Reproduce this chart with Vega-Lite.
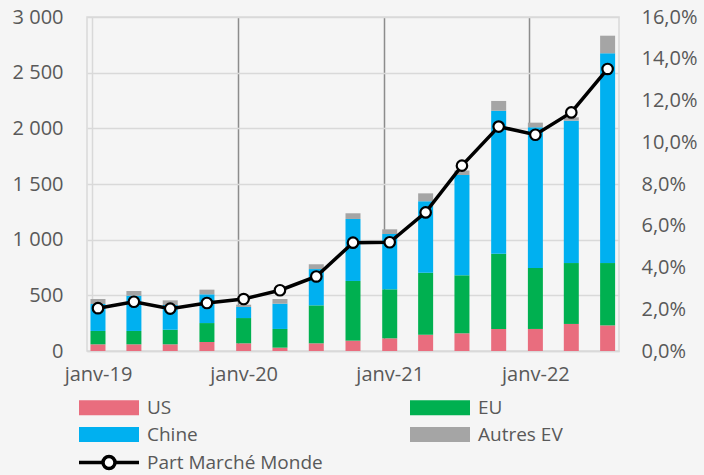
{
  "$schema": "https://vega.github.io/schema/vega-lite/v6.json",
  "autosize": {"type": "none"},
  "width": 532,
  "height": 334,
  "padding": {"left": 87, "top": 17, "right": 85, "bottom": 124},
  "background": "#f5f5f5",
  "config": {
    "view": {"stroke": "#d9d9d9", "strokeWidth": 1.5},
    "font": "Open Sans",
    "axis": {"labelFont": "Open Sans", "labelFontSize": 20, "labelColor": "#595959", "ticks": false, "title": null},
    "legend": {"labelFont": "Open Sans", "labelFontSize": 19, "labelColor": "#595959", "labelLimit": 400}
  },
  "data": {
    "values": [
      {"date": "2019-01-16", "US": 60, "EU": 120, "Chine": 242, "Autres EV": 45, "share": 2.05},
      {"date": "2019-04-16", "US": 60, "EU": 120, "Chine": 317, "Autres EV": 42, "share": 2.36},
      {"date": "2019-07-16", "US": 60, "EU": 131, "Chine": 222, "Autres EV": 42, "share": 2.03},
      {"date": "2019-10-16", "US": 81, "EU": 170, "Chine": 258, "Autres EV": 42, "share": 2.30},
      {"date": "2020-01-16", "US": 69, "EU": 227, "Chine": 100, "Autres EV": 20, "share": 2.49},
      {"date": "2020-04-16", "US": 30, "EU": 168, "Chine": 227, "Autres EV": 42, "share": 2.91},
      {"date": "2020-07-16", "US": 69, "EU": 341, "Chine": 326, "Autres EV": 43, "share": 3.57},
      {"date": "2020-10-16", "US": 93, "EU": 536, "Chine": 557, "Autres EV": 51, "share": 5.19},
      {"date": "2021-01-16", "US": 114, "EU": 440, "Chine": 497, "Autres EV": 42, "share": 5.21},
      {"date": "2021-04-16", "US": 146, "EU": 557, "Chine": 642, "Autres EV": 71, "share": 6.64},
      {"date": "2021-07-16", "US": 159, "EU": 521, "Chine": 901, "Autres EV": 40, "share": 8.88},
      {"date": "2021-10-16", "US": 198, "EU": 676, "Chine": 1284, "Autres EV": 88, "share": 10.75},
      {"date": "2022-01-16", "US": 198, "EU": 548, "Chine": 1263, "Autres EV": 42, "share": 10.36},
      {"date": "2022-04-16", "US": 243, "EU": 547, "Chine": 1279, "Autres EV": 30, "share": 11.43},
      {"date": "2022-07-16", "US": 230, "EU": 560, "Chine": 1884, "Autres EV": 158, "share": 13.51}
    ]
  },
  "encoding": {
    "x": {
      "field": "date",
      "type": "temporal",
      "scale": {"type": "utc", "domain": [{"year": 2019, "month": 1, "date": 1, "utc": true}, {"year": 2022, "month": 8, "date": 1, "utc": true}]},
      "axis": {
        "values": [
          {"year": 2019, "month": 1, "date": 1, "utc": true},
          {"year": 2020, "month": 1, "date": 1, "utc": true},
          {"year": 2021, "month": 1, "date": 1, "utc": true},
          {"year": 2022, "month": 1, "date": 1, "utc": true}
        ],
        "labelExpr": "'janv-' + utcFormat(datum.value, '%y')",
        "labelOffset": 6,
        "labelPadding": 13,
        "labelOverlap": false,
        "labelFlush": false,
        "labelBound": false,
        "grid": true,
        "gridColor": {"condition": {"test": "utcyear(datum.value) == 2019", "value": "#d9d9d9"}, "value": "#8c8c8c"},
        "gridWidth": 1.5,
        "domainColor": "#d9d9d9",
        "domainWidth": 1.5
      }
    }
  },
  "layer": [
    {
      "transform": [{"fold": ["US", "EU", "Chine", "Autres EV"], "as": ["serie", "value"]}],
      "mark": {"type": "bar", "size": 15},
      "encoding": {
        "y": {
          "field": "value",
          "type": "quantitative",
          "stack": "zero",
          "scale": {"domain": [0, 3000], "nice": false},
          "axis": {
            "values": [0, 500, 1000, 1500, 2000, 2500, 3000],
            "labelExpr": "replace(format(datum.value, ','), ',', ' ')",
            "labelPadding": 24,
            "domain": false,
            "grid": true,
            "gridColor": "#d9d9d9",
            "gridWidth": 1.5
          }
        },
        "color": {
          "field": "serie",
          "type": "nominal",
          "sort": ["US", "EU", "Chine", "Autres EV"],
          "scale": {"domain": ["US", "EU", "Chine", "Autres EV"], "range": ["#e96d7e", "#00b050", "#00b0f0", "#a5a5a5"]},
          "legend": {
            "title": null,
            "orient": "none",
            "direction": "horizontal",
            "legendX": -10,
            "legendY": 381,
            "columns": 2,
            "columnPadding": 210,
            "rowPadding": 7,
            "symbolType": "M-1,-1L7,-1L7,1L-1,1Z",
            "symbolSize": 225,
            "symbolStrokeWidth": 0,
            "labelOffset": 51
          }
        }
      }
    },
    {
      "mark": {"type": "line", "strokeWidth": 3.5},
      "encoding": {
        "y": {
          "field": "share",
          "type": "quantitative",
          "scale": {"domain": [0, 16], "nice": false},
          "axis": {
            "orient": "right",
            "values": [0, 2, 4, 6, 8, 10, 12, 14, 16],
            "labelExpr": "replace(format(datum.value, '.1f'), '.', ',') + '%'",
            "labelPadding": 22,
            "domain": false,
            "grid": false
          }
        },
        "stroke": {
          "datum": "Part Marché Monde",
          "scale": {"range": ["#000000"]},
          "legend": {
            "title": null,
            "orient": "none",
            "legendX": -10,
            "legendY": 436,
            "symbolType": "M-1,0L2.2,0M3.8,0L7,0M2.2,0A0.8,0.8 0 1,0 3.8,0A0.8,0.8 0 1,0 2.2,0Z",
            "symbolSize": 225,
            "symbolStrokeWidth": 3.5,
            "symbolFillColor": "#ffffff",
            "labelOffset": 51
          }
        }
      }
    },
    {
      "mark": {"type": "point", "filled": true, "fill": "#ffffff", "stroke": "#000000", "strokeWidth": 2.2, "size": 110, "opacity": 1},
      "encoding": {
        "y": {"field": "share", "type": "quantitative", "scale": {"domain": [0, 16], "nice": false}, "axis": null}
      }
    }
  ],
  "resolve": {"scale": {"y": "independent"}}
}
